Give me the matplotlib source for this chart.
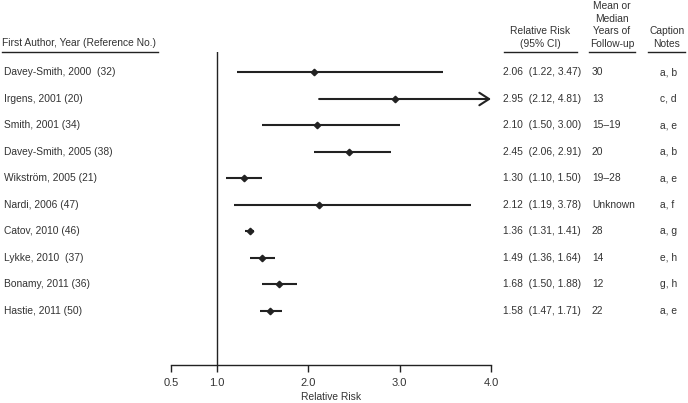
import matplotlib
matplotlib.use("Agg")
import matplotlib.pyplot as plt
import matplotlib.transforms as mtransforms

plt.rcParams['font.family'] = ['Liberation Sans', 'DejaVu Sans']

studies = ["Davey-Smith, 2000  (32)", "Irgens, 2001 (20)", "Smith, 2001 (34)",
           "Davey-Smith, 2005 (38)", "Wikström, 2005 (21)", "Nardi, 2006 (47)",
           "Catov, 2010 (46)", "Lykke, 2010  (37)", "Bonamy, 2011 (36)",
           "Hastie, 2011 (50)"]
rr = [2.06, 2.95, 2.10, 2.45, 1.30, 2.12, 1.36, 1.49, 1.68, 1.58]
lo = [1.22, 2.12, 1.50, 2.06, 1.10, 1.19, 1.31, 1.36, 1.50, 1.47]
hi = [3.47, 4.81, 3.00, 2.91, 1.50, 3.78, 1.41, 1.64, 1.88, 1.71]
followup = ["30", "13", "15\u201319", "20", "19\u201328", "Unknown", "28", "14", "12", "22"]
notes = ["a, b", "c, d", "a, e", "a, b", "a, e", "a, f", "a, g", "e, h", "g, h", "a, e"]
xticks = [0.5, 1.0, 2.0, 3.0, 4.0]
xticklabels = ["0.5", "1.0", "2.0", "3.0", "4.0"]

W, H = 688, 403
fig = plt.figure(figsize=(W / 100, H / 100), dpi=100)

def fx(px):
    return px / W

def fy(py):
    return 1 - py / H

col = "#222222"
tcol = "#333333"
fs = 7.4

ax_left, ax_right, ax_top, ax_bot = 171, 491, 52, 365
ax = fig.add_axes([fx(ax_left), fy(ax_bot), fx(ax_right - ax_left), (ax_bot - ax_top) / H])
xmin, xmax = 0.5, 4.0
ax.set_xlim(xmin, xmax)
row0, rowstep = 72.5, 26.5
ax.set_ylim((ax_bot - row0) / rowstep, -(row0 - ax_top) / rowstep)

for s in ["top", "right", "left"]:
    ax.spines[s].set_visible(False)
ax.spines["bottom"].set_color(col)
ax.spines["bottom"].set_linewidth(1.0)
ax.set_yticks([])
ax.set_xticks(xticks)
ax.set_xticklabels(xticklabels)
ax.tick_params(axis="x", direction="out", length=5, width=1.0, color=col,
               labelsize=8, labelcolor=tcol, pad=4)
ax.set_xlabel("Relative Risk", fontsize=fs, color=tcol, labelpad=3)
ax.axvline(1.0, color=col, lw=1.0)

for i in range(len(studies)):
    if hi[i] > xmax:
        ax.annotate("", xy=(xmax, i), xytext=(lo[i], i),
                    arrowprops=dict(arrowstyle="->,head_length=0.7,head_width=0.45",
                                    color=col, lw=1.5, shrinkA=0, shrinkB=0))
    else:
        ax.plot([lo[i], hi[i]], [i, i], color=col, lw=1.5, solid_capstyle="butt")
    ax.plot(rr[i], i, marker="D", markersize=3.3, color=col, zorder=3)

tr = mtransforms.blended_transform_factory(fig.transFigure, ax.transData)
for i in range(len(studies)):
    ax.text(fx(4), i, studies[i], transform=tr, fontsize=fs, color=tcol,
            va="center", ha="left", clip_on=False)
    ax.text(fx(503), i, f"{rr[i]:.2f}  ({lo[i]:.2f}, {hi[i]:.2f})", transform=tr,
            fontsize=fs, color=tcol, va="center", ha="left", clip_on=False)
    ax.text(fx(592), i, followup[i], transform=tr, fontsize=fs, color=tcol,
            va="center", ha="left", clip_on=False)
    ax.text(fx(660), i, notes[i], transform=tr, fontsize=fs, color=tcol,
            va="center", ha="left", clip_on=False)

# headers
fig.text(fx(2), fy(43), "First Author, Year (Reference No.)", fontsize=fs, color=tcol,
         ha="left", va="center")
fig.text(fx(540), fy(37.5), "Relative Risk\n(95% CI)", fontsize=fs, color=tcol,
         ha="center", va="center", linespacing=1.35)
fig.text(fx(612), fy(25), "Mean or\nMedian\nYears of\nFollow-up", fontsize=fs, color=tcol,
         ha="center", va="center", linespacing=1.35)
fig.text(fx(667), fy(37.5), "Caption\nNotes", fontsize=fs, color=tcol,
         ha="center", va="center", linespacing=1.35)

for x0, x1 in [(2, 158), (504, 577), (589, 635), (648, 685)]:
    fig.add_artist(plt.Line2D([fx(x0), fx(x1)], [fy(52), fy(52)], color=col, lw=1.0,
                              transform=fig.transFigure))

fig.savefig("out.png", dpi=100, facecolor="white")
